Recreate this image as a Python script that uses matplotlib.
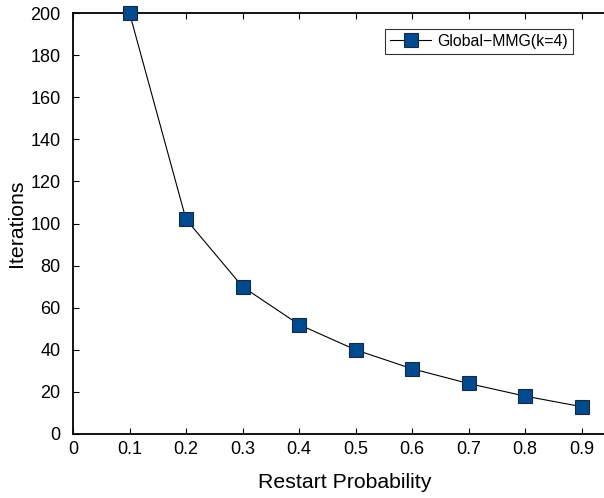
import matplotlib
matplotlib.use("Agg")
import matplotlib.pyplot as plt

# ── Data ──────────────────────────────────────────────
restart_prob = [0.1, 0.2, 0.3, 0.4, 0.5, 0.6, 0.7, 0.8, 0.9]
iterations   = [200, 102, 70, 52, 40, 31, 24, 18, 13]
x_ticks      = [0, 0.1, 0.2, 0.3, 0.4, 0.5, 0.6, 0.7, 0.8, 0.9]
y_ticks      = [0, 20, 40, 60, 80, 100, 120, 140, 160, 180, 200]

plt.rcParams['font.family'] = ['Liberation Sans', 'DejaVu Sans']

W, H = 604, 498
fig = plt.figure(figsize=(W / 100, H / 100), dpi=100)
# the original is cropped on the right: axes stop at the canvas edge
left, right, top, bottom = 73, 604, 13, 434
x_per_px = 1.0 / (638 - left)   # x=1 would sit at pixel 638
ax = fig.add_axes([left / W, 1 - bottom / H, (right - left) / W, (bottom - top) / H])

ax.plot(restart_prob, iterations, color='black', linewidth=0.8,
        marker='s', markersize=10, markerfacecolor='#004a8f',
        markeredgecolor='#1a2a3a', markeredgewidth=0.8,
        label='Global\u2212MMG(k=4)', clip_on=False, zorder=3)

ax.set_xlim(0, (right - left) * x_per_px)
ax.set_ylim(0, 200)
ax.set_xticks(x_ticks)
ax.set_xticklabels(['0' if t == 0 else f'{t:.1f}' for t in x_ticks])
ax.set_yticks(y_ticks)
ax.tick_params(direction='in', top=True, right=False, labelsize=13,
               length=4, width=0.8)
ax.tick_params(axis='x', pad=5)
ax.tick_params(axis='y', pad=9)
for s in ax.spines.values():
    s.set_linewidth(1.3)
ax.spines['right'].set_visible(False)

ax.set_xlabel('Restart Probability', fontsize=15.3)
ax.set_ylabel('Iterations', fontsize=15.3)
ax.xaxis.set_label_coords((345 - left) / (right - left), -(483 - bottom) / (bottom - top))
ax.yaxis.set_label_coords(-(73 - 17) / (right - left), 0.5)
ax.xaxis.label.set_va('center')
ax.yaxis.label.set_va('center')

leg = ax.legend(loc='upper right', bbox_to_anchor=(573 / W, 1 - 29 / H),
                bbox_transform=fig.transFigure, fontsize=11.4,
                frameon=True, fancybox=False, edgecolor='black',
                borderpad=0.3, handlelength=2.6, handletextpad=0.4,
                borderaxespad=0)
leg.get_frame().set_linewidth(0.8)

fig.savefig('out.png', dpi=100)
